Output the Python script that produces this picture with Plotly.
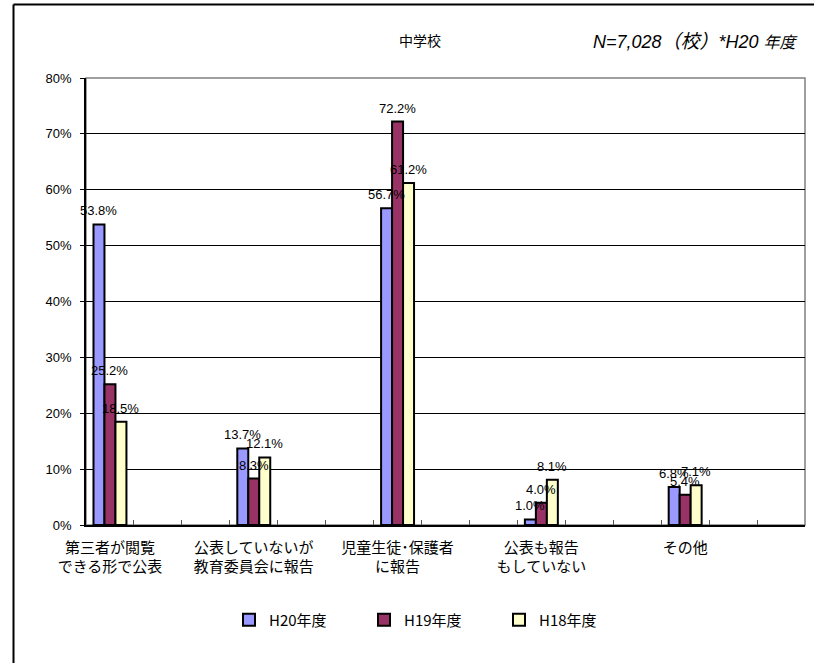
import plotly.graph_objects as go

# Survey results: how evaluation results were disclosed (junior high schools)
categories = ["第三者が閲覧<br>できる形で公表", "公表していないが<br>教育委員会に報告",
              "児童生徒･保護者<br>に報告", "公表も報告<br>もしていない", "その他"]
series_names = ["H20年度", "H19年度", "H18年度"]
h20 = [53.8, 13.7, 56.7, 1.0, 6.8]
h19 = [25.2, 8.3, 72.2, 4.0, 5.4]
h18 = [18.5, 12.1, 61.2, 8.1, 7.1]
y_ticks = [0, 10, 20, 30, 40, 50, 60, 70, 80]
y_labels = [f"{v}%" for v in y_ticks]

colors = ["#9999FF", "#993366", "#FFFFCC"]
series_values = [h20, h19, h18]

# Each group occupies one slot out of three; the two slots between groups stay empty
axis_cats = []
pad = 0
for c in categories:
    axis_cats.append(c)
    for _ in range(2):
        pad += 1
        axis_cats.append("\u200b" * pad)

W, H = 814, 663
L, R, T, B = 86, 9, 78, 138
pw, ph = W - L - R, H - T - B


def px_x(x):
    return (x - L) / pw


def px_y(y):
    return (H - B - y) / ph


fig = go.Figure()
for name, vals, col in zip(series_names, series_values, colors):
    fig.add_trace(go.Bar(
        x=categories, y=vals, name=name,
        marker=dict(color=col, line=dict(color="black", width=2)),
    ))

# Value labels above each bar
bar_px = 11
for i, vals in enumerate(series_values):
    for c, v in zip(categories, vals):
        fig.add_annotation(
            x=c, y=v, xref="x", yref="y", text=f"{v:.1f}%",
            showarrow=False, yanchor="bottom", yshift=4,
            xshift=(i - 1) * bar_px,
            font=dict(family="Liberation Sans, Arial", size=13, color="black"),
        )

# Titles
fig.add_annotation(x=px_x(420), y=px_y(40), xref="paper", yref="paper",
                   xanchor="center", yanchor="middle",
                   text="中学校", showarrow=False,
                   font=dict(family="Noto Sans CJK JP", size=14, color="black"))
fig.add_annotation(x=px_x(801), y=px_y(39), xref="paper", yref="paper",
                   xanchor="right", yanchor="middle",
                   text="<i>N=7,028<span style='font-family:Noto Sans CJK JP;font-size:19px'>（校）</span>"
                        "*H20 <span style='font-family:Noto Sans CJK JP;font-size:16px'>年度</span></i>",
                   showarrow=False,
                   font=dict(family="Liberation Sans Narrow, Liberation Sans", size=18, color="black"))

# Plot-area frame (gray top/right) and outer chart border
fig.add_shape(type="rect", xref="paper", yref="paper", x0=0, x1=1, y0=0, y1=1,
              line=dict(color="#808080", width=1.5), layer="below")
bx = px_x(13.5)
by = px_y(4.5)
fig.add_shape(type="line", xref="paper", yref="paper", x0=bx, x1=1.2, y0=by, y1=by,
              line=dict(color="black", width=2))
fig.add_shape(type="line", xref="paper", yref="paper", x0=bx, x1=bx, y0=by, y1=-1,
              line=dict(color="black", width=2))

fig.update_layout(
    width=W, height=H,
    margin=dict(l=L, r=R, t=T, b=B),
    paper_bgcolor="white", plot_bgcolor="white",
    barmode="group", bargap=0.3125, bargroupgap=0,
    font=dict(family="Noto Sans CJK JP", size=14, color="black"),
    showlegend=True,
    legend=dict(orientation="h", x=px_x(229), xanchor="left",
                y=px_y(620), yanchor="middle",
                entrywidth=90, entrywidthmode="pixels",
                font=dict(family="Noto Sans CJK JP", size=15, color="black"),
                itemsizing="constant", traceorder="normal"),
    xaxis=dict(type="category", categoryorder="array", categoryarray=axis_cats,
               range=[-0.5, len(axis_cats) - 0.5],
               tickson="boundaries", ticks="inside", ticklen=5, tickcolor="#555",
               tickangle=0, ticklabelstandoff=8,
               showline=True, linecolor="black", linewidth=1.5,
               showgrid=False, fixedrange=True,
               tickfont=dict(family="Noto Sans CJK JP", size=15, color="black")),
    yaxis=dict(range=[0, 80], tickvals=y_ticks, ticktext=y_labels,
               ticks="outside", ticklen=4, tickcolor="black", ticklabelstandoff=6,
               showline=True, linecolor="black", linewidth=1.5,
               showgrid=True, gridcolor="black", gridwidth=1,
               zeroline=False, fixedrange=True,
               tickfont=dict(family="Liberation Sans Narrow, Liberation Sans", size=13, color="black")),
)

fig.write_html("out.html")
